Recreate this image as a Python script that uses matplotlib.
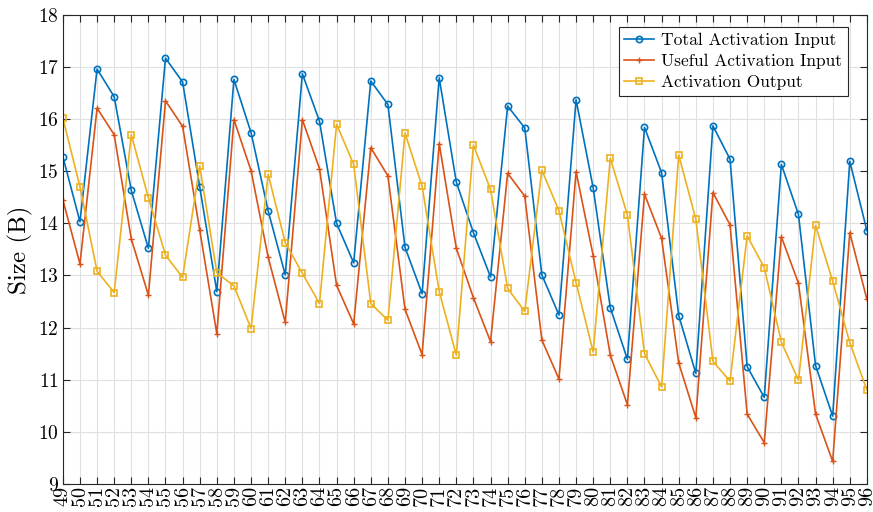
import numpy as np
import matplotlib
matplotlib.use("Agg")
import matplotlib.pyplot as plt

# layer indices on the x axis
layers = list(range(49, 97))

# sizes (B)
total_input = [15.28, 14.03, 16.96, 16.43, 14.63, 13.52, 17.17, 16.71, 14.70, 12.69, 16.76, 15.74,
               14.24, 13.01, 16.87, 15.96, 14.00, 13.24, 16.73, 16.28, 13.54, 12.65, 16.79,
               14.79, 13.82, 12.97, 16.25, 15.83, 13.01, 12.24, 16.37, 14.68, 12.38, 11.39,
               15.84, 14.97, 12.23, 11.12, 15.87, 15.23, 11.25, 10.66, 15.13, 14.17, 11.27, 10.30,
               15.19, 13.86]
useful_input = [14.45, 13.22, 16.21, 15.70, 13.70, 12.62, 16.35, 15.86, 13.87, 11.88, 15.99, 15.01,
                13.35, 12.10, 15.99, 15.05, 12.81, 12.07, 15.45, 14.91, 12.35, 11.48, 15.53,
                13.52, 12.57, 11.73, 14.96, 14.52, 11.76, 11.01, 14.99, 13.38, 11.47, 10.52,
                14.56, 13.71, 11.32, 10.27, 14.59, 13.97, 10.34, 9.79, 13.74, 12.85, 10.34, 9.43,
                13.82, 12.54]
act_output = [16.02, 14.70, 13.08, 12.67, 15.70, 14.49, 13.39, 12.96, 15.10, 13.05, 12.80, 11.98,
              14.94, 13.63, 13.04, 12.46, 15.90, 15.13, 12.46, 12.14, 15.73, 14.71, 12.69,
              11.47, 15.50, 14.65, 12.75, 12.31, 15.02, 14.24, 12.86, 11.53, 15.25, 14.16,
              11.50, 10.86, 15.31, 14.08, 11.35, 10.97, 13.76, 13.15, 11.72, 10.99, 13.96, 12.89,
              11.71, 10.80]

plt.rcParams['font.family'] = 'serif'
plt.rcParams['font.serif'] = ['cmr10', 'DejaVu Serif']
plt.rcParams['mathtext.fontset'] = 'cm'
plt.rcParams['axes.formatter.use_mathtext'] = True

fig = plt.figure(figsize=(8.73, 5.12), dpi=100)
ax = fig.add_axes([0.072, 0.055, 0.921, 0.916])

ax.plot(layers, total_input, color='#0072BD', lw=1.2, marker='o', ms=4.5,
        mfc='none', mew=1.2, label='Total Activation Input')
ax.plot(layers, useful_input, color='#D95319', lw=1.2, marker='+', ms=4.5,
        mew=1.0, label='Useful Activation Input')
ax.plot(layers, act_output, color='#EDB120', lw=1.2, marker='s', ms=4,
        mfc='none', mew=1.2, label='Activation Output')

ax.set_xlim(49, 96)
ax.set_ylim(9, 18)
ax.set_xticks(layers)
ax.set_xticklabels([str(v) for v in layers], rotation=90, fontsize=14.5)
ax.set_yticks(range(9, 19))
ax.tick_params(axis='y', labelsize=14)
ax.tick_params(direction='in', top=True, right=True, length=5, width=0.8,
               color='#262626', pad=3)
ax.tick_params(axis='x', pad=1.5)
ax.grid(True, color='#e0e0e0', lw=0.8)
ax.set_axisbelow(True)
for s in ax.spines.values():
    s.set_color('#262626')
    s.set_linewidth(0.8)
ax.set_ylabel('Size (B)', fontsize=18, labelpad=3)

leg = ax.legend(loc='upper right', bbox_to_anchor=(0.976, 0.974), borderaxespad=0,
                fontsize=12.5, fancybox=False, framealpha=1, edgecolor='#262626',
                handlelength=1.75, handletextpad=0.4, borderpad=0.3,
                labelspacing=0.35)
leg.get_frame().set_linewidth(0.8)

fig.savefig('out.png', dpi=100)
